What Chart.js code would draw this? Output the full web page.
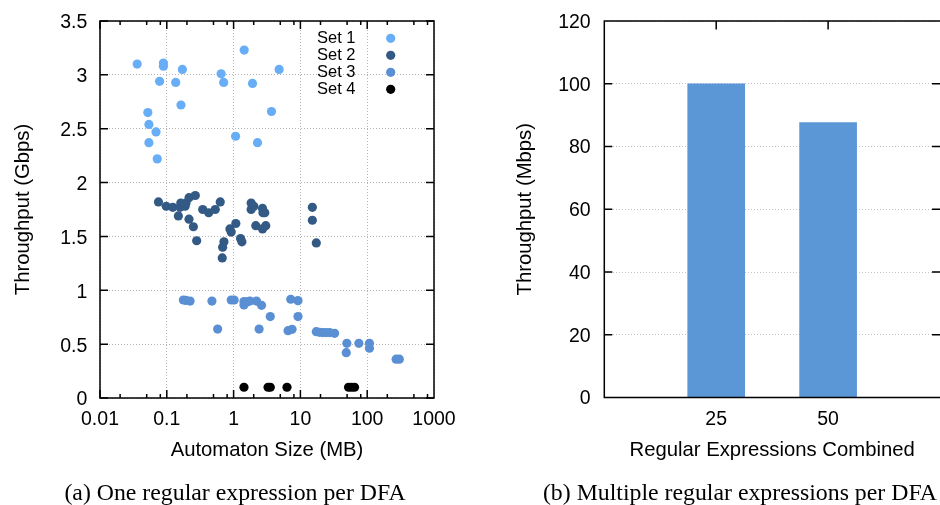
<!DOCTYPE html>
<html>
<head>
<meta charset="utf-8">
<script src="https://cdn.jsdelivr.net/npm/chart.js@4.4.0/dist/chart.umd.min.js"></script>
<style>
  html, body { margin: 0; padding: 0; background: #fff; }
  body { width: 940px; height: 505px; position: relative; overflow: hidden; }
  canvas { position: absolute; top: 0; }
  #sizeChart { left: 0; }
  #comboChart { left: 470px; }
  .cap {
    position: absolute; top: 481px;
    font-family: "Liberation Serif", "Times New Roman", serif;
    font-size: 23.8px; line-height: 1; white-space: nowrap;
    transform: translateX(-50%); color: #000;
  }
</style>
</head>
<body>
<canvas id="sizeChart" width="470" height="505"></canvas>
<canvas id="comboChart" width="470" height="505"></canvas>
<div class="cap" style="left:235px">(a) One regular expression per DFA</div>
<div class="cap" style="left:740px">(b) Multiple regular expressions per DFA</div>
<script>
// Throughput vs. automaton size, one regex per DFA (four rule sets)
const set1Size = [0.036, 0.089, 0.089, 0.171, 0.078, 0.136, 0.163, 0.052, 0.054, 0.069, 0.054, 0.072, 0.65, 0.71, 1.44, 1.92, 1.07, 2.28, 4.8, 3.69];
const set1Gbps = [3.10, 3.11, 3.08, 3.05, 2.94, 2.93, 2.72, 2.65, 2.54, 2.47, 2.37, 2.22, 3.01, 2.93, 3.23, 2.92, 2.43, 2.37, 3.05, 2.66];

const set2Size = [0.075, 0.098, 0.123, 0.162, 0.158, 0.188, 0.194, 0.215, 0.267, 0.149, 0.215, 0.25, 0.28, 0.345, 0.424, 0.531, 0.631, 0.881, 0.921, 1.08, 1.27, 1.33, 0.717, 0.685, 0.676, 1.83, 2.01, 1.83, 2.15, 2.71, 2.75, 2.93, 2.71, 3.03, 15.1, 15.1, 17.3];
const set2Gbps = [1.82, 1.78, 1.77, 1.81, 1.77, 1.78, 1.81, 1.86, 1.88, 1.69, 1.66, 1.59, 1.46, 1.75, 1.72, 1.75, 1.82, 1.57, 1.54, 1.62, 1.48, 1.45, 1.45, 1.40, 1.30, 1.81, 1.78, 1.75, 1.60, 1.76, 1.72, 1.72, 1.57, 1.60, 1.77, 1.65, 1.44];

const set3Size = [0.177, 0.194, 0.223, 0.474, 0.577, 0.921, 1.02, 1.43, 1.43, 1.58, 1.75, 2.2, 2.62, 2.41, 3.54, 7.17, 9.2, 9.2, 6.53, 7.5, 17.3, 19.4, 21.7, 24.4, 27.4, 32.5, 49.6, 48.6, 75, 108, 108, 271, 303];
const set3Gbps = [0.91, 0.906, 0.90, 0.90, 0.64, 0.91, 0.91, 0.895, 0.864, 0.892, 0.90, 0.90, 0.86, 0.64, 0.756, 0.917, 0.904, 0.756, 0.625, 0.638, 0.616, 0.61, 0.607, 0.607, 0.607, 0.60, 0.508, 0.421, 0.508, 0.508, 0.462, 0.36, 0.36];

const set4Size = [1.43, 3.28, 3.54, 6.3, 52.6, 58.3, 64.6];
const set4Gbps = [0.1, 0.1, 0.1, 0.1, 0.1, 0.1, 0.1];

const sizeTicks = [0.01, 0.1, 1, 10, 100, 1000];
const sizeTickLabels = ['0.01', '0.1', '1', '10', '100', '1000'];
const gbpsTicks = [0, 0.5, 1, 1.5, 2, 2.5, 3, 3.5];

// Throughput with several regexes combined into one DFA
const regexCounts = ['25', '50'];
const regexMbps = [100, 87.6];
const mbpsTicks = [0, 20, 40, 60, 80, 100, 120];

Chart.defaults.font.family = '"Liberation Sans", Arial, Helvetica, sans-serif';
Chart.defaults.color = '#000';
Chart.defaults.animation = false;

const tickFont = { size: 19.5 };
const titleFont = { size: 20.3 };
const pts = (xs, ys) => xs.map((x, i) => ({ x, y: ys[i] }));

// keep the plot area where the layout padding puts it (labels may overhang)
const noEdgePadding = s => { s.paddingTop = 0; s.paddingBottom = 0; s.paddingLeft = 0; s.paddingRight = 0; };

// gnuplot-style frame: border box, inward tick marks, key inside the plot
const scatterFrame = {
  id: 'scatterFrame',
  afterDatasetsDraw(chart) {
    const { ctx, chartArea: a, scales: { x, y } } = chart;
    ctx.save();
    ctx.strokeStyle = '#000';
    ctx.lineWidth = 1.5;
    ctx.beginPath();
    for (let e = -2; e <= 2; e++) {
      for (const m of [1, 2, 5, 8]) {
        const px = x.getPixelForValue(m * Math.pow(10, e));
        const len = m === 1 ? 8 : 4;
        ctx.moveTo(px, a.bottom); ctx.lineTo(px, a.bottom - len);
        ctx.moveTo(px, a.top); ctx.lineTo(px, a.top + len);
      }
    }
    for (const v of gbpsTicks) {
      const py = y.getPixelForValue(v);
      ctx.moveTo(a.left, py); ctx.lineTo(a.left + 8, py);
      ctx.moveTo(a.right, py); ctx.lineTo(a.right - 8, py);
    }
    ctx.stroke();
    ctx.strokeRect(a.left, a.top, a.right - a.left, a.bottom - a.top);

    // key
    ctx.font = '16.5px "Liberation Sans", Arial, sans-serif';
    ctx.textAlign = 'right';
    ctx.textBaseline = 'middle';
    chart.data.datasets.forEach((ds, i) => {
      const ky = 38.3 + i * 17;
      ctx.fillStyle = '#000';
      ctx.fillText(ds.label, 355.5, ky + 0.5);
      ctx.fillStyle = ds.backgroundColor;
      ctx.beginPath();
      ctx.arc(390.7, ky, 4.6, 0, Math.PI * 2);
      ctx.fill();
    });
    ctx.restore();
  }
};

const barFrame = {
  id: 'barFrame',
  afterDatasetsDraw(chart) {
    const { ctx, chartArea: a, scales: { x, y } } = chart;
    ctx.save();
    ctx.strokeStyle = '#000';
    ctx.lineWidth = 1.5;
    ctx.beginPath();
    ctx.moveTo(a.right + 2, a.top); ctx.lineTo(a.left, a.top);
    ctx.lineTo(a.left, a.bottom); ctx.lineTo(a.right + 2, a.bottom);
    for (const v of mbpsTicks) {
      const py = y.getPixelForValue(v);
      ctx.moveTo(a.left, py); ctx.lineTo(a.left + 8, py);
      ctx.moveTo(a.right, py); ctx.lineTo(a.right - 8, py);
    }
    regexCounts.forEach((c, i) => {
      const px = x.getPixelForValue(i + 1);
      ctx.moveTo(px, a.top); ctx.lineTo(px, a.top + 8.5);
    });
    ctx.stroke();
    ctx.restore();
  }
};

new Chart(document.getElementById('sizeChart'), {
  type: 'scatter',
  data: {
    datasets: [
      { label: 'Set 1', data: pts(set1Size, set1Gbps), backgroundColor: '#68aef6' },
      { label: 'Set 2', data: pts(set2Size, set2Gbps), backgroundColor: '#335a85' },
      { label: 'Set 3', data: pts(set3Size, set3Gbps), backgroundColor: '#5a90d3' },
      { label: 'Set 4', data: pts(set4Size, set4Gbps), backgroundColor: '#000000' }
    ]
  },
  options: {
    responsive: false,
    animation: false,
    events: [],
    layout: { padding: { left: 0, right: 36, top: 21, bottom: 0 } },
    elements: { point: { radius: 4.6, hoverRadius: 4.6, borderWidth: 0 } },
    plugins: { legend: { display: false }, tooltip: { enabled: false } },
    scales: {
      x: {
        type: 'logarithmic', min: 0.01, max: 1000,
        afterBuildTicks: s => { s.ticks = sizeTicks.map(v => ({ value: v })); },
        afterFit: s => { s.height = 107; noEdgePadding(s); },
        ticks: { autoSkip: false, maxRotation: 0, padding: 10.3, font: tickFont,
                 callback: (v, i) => sizeTickLabels[i] },
        grid: { color: '#b4b4b4', lineWidth: 1, drawTicks: false },
        border: { display: false, dash: [1, 2] },
        title: { display: true, text: 'Automaton Size (MB)', font: titleFont, padding: { top: 0, bottom: 42.8 } }
      },
      y: {
        min: 0, max: 3.5,
        afterBuildTicks: s => { s.ticks = gbpsTicks.map(v => ({ value: v })); },
        afterFit: s => { s.width = 100; noEdgePadding(s); },
        ticks: { padding: 12.7, font: tickFont, labelOffset: 2, callback: v => String(v) },
        grid: { color: '#b4b4b4', lineWidth: 1, drawTicks: false },
        border: { display: false, dash: [1, 2] },
        title: { display: true, text: 'Throughput (Gbps)', font: titleFont, padding: { top: 11.1, bottom: 0 } }
      }
    }
  },
  plugins: [scatterFrame]
});

new Chart(document.getElementById('comboChart'), {
  type: 'bar',
  data: {
    labels: ['', ...regexCounts, ''],
    datasets: [{
      label: 'Throughput',
      data: [null, ...regexMbps, null],
      backgroundColor: '#5b96d6',
      borderWidth: 0,
      barThickness: 57
    }]
  },
  options: {
    responsive: false,
    animation: false,
    events: [],
    layout: { padding: { left: 0, right: 0, top: 21, bottom: 0 } },
    plugins: { legend: { display: false }, tooltip: { enabled: false } },
    scales: {
      x: {
        offset: false,
        afterFit: s => { s.height = 107.5; noEdgePadding(s); },
        ticks: { autoSkip: false, maxRotation: 0, padding: 10.3, font: tickFont },
        grid: { display: false, drawTicks: false },
        border: { display: false },
        title: { display: true, text: 'Regular Expressions Combined', font: titleFont, padding: { top: 0, bottom: 42.8 } }
      },
      y: {
        min: 0, max: 120,
        afterBuildTicks: s => { s.ticks = mbpsTicks.map(v => ({ value: v })); },
        afterFit: s => { s.width = 134.3; noEdgePadding(s); },
        ticks: { padding: 13.6, font: tickFont, labelOffset: 1.5, callback: v => String(v) },
        grid: { color: '#c2c2c2', lineWidth: 1, drawTicks: false },
        border: { display: false, dash: [1, 2] },
        title: { display: true, text: 'Throughput (Mbps)', font: titleFont, padding: { top: 42.8, bottom: 0 } }
      }
    }
  },
  plugins: [barFrame]
});
</script>
</body>
</html>
